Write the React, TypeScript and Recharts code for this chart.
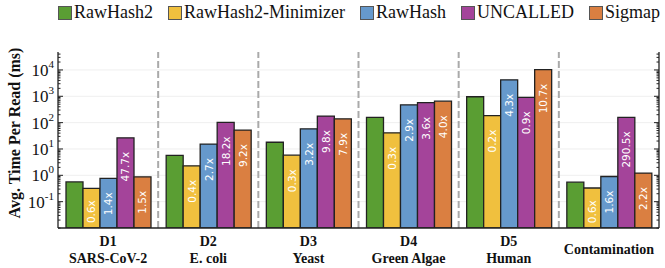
import React from 'react';
import {
  BarChart,
  Bar,
  XAxis,
  YAxis,
  Legend,
  LabelList,
  ReferenceLine,
  CartesianGrid,
} from 'recharts';

const categories = ['D1', 'D2', 'D3', 'D4', 'D5', 'Contamination'];
const subtitles = ['SARS-CoV-2', 'E. coli', 'Yeast', 'Green Algae', 'Human', ''];

// avg. time per read (ms)
const rawhash2 = [0.56, 5.7, 18, 159, 960, 0.55];
const minimizer = [0.32, 2.3, 5.8, 41, 186, 0.33];
const rawhash = [0.77, 15.4, 58, 475, 4200, 0.9];
const uncalled = [26.5, 102, 177, 570, 910, 159];
const sigmap = [0.88, 52, 140, 650, 10200, 1.22];

// speedup labels printed inside the bars
const minimizerLabels = ['0.6x', '0.4x', '0.3x', '0.3x', '0.2x', '0.6x'];
const rawhashLabels = ['1.4x', '2.7x', '3.2x', '2.9x', '4.3x', '1.6x'];
const uncalledLabels = ['47.7x', '18.2x', '9.8x', '3.6x', '0.9x', '290.5x'];
const sigmapLabels = ['1.5x', '9.2x', '7.9x', '4.0x', '10.7x', '2.2x'];

const seriesNames = ['RawHash2', 'RawHash2-Minimizer', 'RawHash', 'UNCALLED', 'Sigmap'];
const majorTicks = [0.1, 1, 10, 100, 1000, 10000];
const superscripts = ['-1', '0', '1', '2', '3', '4'];
const yDomain = [0.01, 48000];

const COLORS = ['#5a9e33', '#f0c03e', '#6699cc', '#a4449a', '#da7f41'];
const SERIF = '"Liberation Serif", serif';
const PLOT_LEFT = 58;
const PLOT_RIGHT = 659;

const allTicks: number[] = [];
for (let e = -2; e <= 4; e++) {
  for (let m = 1; m <= 9; m++) {
    const v = m * Math.pow(10, e);
    if (v <= yDomain[1]) allTicks.push(Number(v.toPrecision(3)));
  }
}

const data = categories.map((name, i) => ({
  name,
  sub: subtitles[i],
  rawhash2: rawhash2[i],
  minimizer: minimizer[i],
  rawhash: rawhash[i],
  uncalled: uncalled[i],
  sigmap: sigmap[i],
  minimizerLabel: minimizerLabels[i],
  rawhashLabel: rawhashLabels[i],
  uncalledLabel: uncalledLabels[i],
  sigmapLabel: sigmapLabels[i],
}));

const majorIndex = (v: number) => majorTicks.findIndex((t) => Math.abs(t - v) < t * 1e-6);

const LeftTick = (props: any) => {
  const { y, payload } = props;
  const idx = majorIndex(payload.value);
  const major = idx >= 0;
  return (
    <g>
      <line x1={PLOT_LEFT} x2={PLOT_LEFT + (major ? 5 : 2.5)} y1={y} y2={y} stroke="#222" strokeWidth={1} />
      {major && (
        <text x={54} y={y + 6} textAnchor="end" fontFamily={SERIF} fontSize={17} fill="#111">
          10
          <tspan fontSize={11} dy={-8}>{superscripts[idx]}</tspan>
        </text>
      )}
    </g>
  );
};

const RightTick = (props: any) => {
  const { y, payload } = props;
  const major = majorIndex(payload.value) >= 0;
  return (
    <line x1={PLOT_RIGHT} x2={PLOT_RIGHT - (major ? 5 : 2.5)} y1={y} y2={y} stroke="#222" strokeWidth={1} />
  );
};

const CategoryTick = (props: any) => {
  const { x, payload } = props;
  const sub = subtitles[payload.index];
  if (!sub) {
    return (
      <text x={x} y={254} textAnchor="middle" fontFamily={SERIF} fontWeight="bold" fontSize={14} fill="#111">
        {payload.value}
      </text>
    );
  }
  return (
    <text textAnchor="middle" fontFamily={SERIF} fontWeight="bold" fontSize={14} fill="#111">
      <tspan x={x} y={246}>{payload.value}</tspan>
      <tspan x={x} y={263}>{sub}</tspan>
    </text>
  );
};

const renderSpeedup = (props: any) => {
  const { x, y, width, height, value } = props;
  if (!value) return null;
  const len = String(value).length * 6.2;
  const bottom = y + height;
  let top = y + 14;
  if (top + len > bottom - 3) top = bottom - 3 - len;
  const cx = x + width / 2;
  return (
    <text
      x={cx}
      y={top}
      transform={`rotate(-90 ${cx} ${top})`}
      textAnchor="end"
      dominantBaseline="central"
      fill="#fff"
      fontSize={10.5}
      fontFamily="DejaVu Sans"
    >
      {value}
    </text>
  );
};

const renderLegend = () => (
  <div style={{ display: 'flex', gap: 15, fontFamily: SERIF, fontSize: 18, color: '#111' }}>
    {seriesNames.map((name, i) => (
      <div key={name} style={{ display: 'flex', alignItems: 'center' }}>
        <span
          style={{
            width: 14,
            height: 14,
            background: COLORS[i],
            border: '1px solid #555',
            boxSizing: 'border-box',
            marginRight: 2,
            display: 'inline-block',
          }}
        />
        <span>{name}</span>
      </div>
    ))}
  </div>
);

const YLabel = (props: any) => {
  const { viewBox } = props;
  const cx = viewBox.x + 14;
  const cy = 133;
  return (
    <text
      x={cx}
      y={cy}
      transform={`rotate(-90 ${cx} ${cy})`}
      textAnchor="middle"
      dominantBaseline="central"
      fontFamily={SERIF}
      fontWeight="bold"
      fontSize={16}
      fill="#111"
    >
      Avg. Time Per Read (ms)
    </text>
  );
};

export default function App() {
  return (
    <div style={{ position: 'absolute', left: 0, top: 0, background: '#fff' }}>
      <BarChart
        width={665}
        height={268}
        data={data}
        margin={{ top: 31, right: 0, bottom: 0, left: 0 }}
        barCategoryGap={8}
        barGap={0}
      >
        <CartesianGrid vertical={false} stroke="#efefef" horizontalValues={majorTicks} yAxisId="left" />
        <XAxis
          dataKey="name"
          height={40}
          axisLine={{ stroke: '#222', strokeWidth: 1.3 }}
          tickLine={false}
          tick={<CategoryTick />}
          interval={0}
        />
        <XAxis
          xAxisId="top"
          orientation="top"
          dataKey="name"
          height={0}
          tick={false}
          tickLine={false}
          axisLine={{ stroke: '#222', strokeWidth: 1.3 }}
        />
        <YAxis
          yAxisId="left"
          scale="log"
          type="number"
          domain={yDomain}
          allowDataOverflow
          ticks={allTicks}
          interval={0}
          width={PLOT_LEFT}
          axisLine={{ stroke: '#222', strokeWidth: 1.3 }}
          tickLine={false}
          tick={<LeftTick />}
          label={<YLabel />}
        />
        <YAxis
          yAxisId="right"
          orientation="right"
          scale="log"
          type="number"
          domain={yDomain}
          allowDataOverflow
          ticks={allTicks}
          interval={0}
          width={6}
          axisLine={{ stroke: '#222', strokeWidth: 1.3 }}
          tickLine={false}
          tick={<RightTick />}
        />
        {categories.slice(0, -1).map((c) => (
          <ReferenceLine
            key={c}
            yAxisId="left"
            x={c}
            position="end"
            stroke="#aaaaaa"
            strokeWidth={2}
            strokeDasharray="7 3"
          />
        ))}
        <Legend
          verticalAlign="top"
          align="left"
          content={renderLegend}
          wrapperStyle={{ top: 2, left: 58, width: 620 }}
        />
        <Bar yAxisId="left" dataKey="rawhash2" name="RawHash2" fill={COLORS[0]} stroke="#222" strokeWidth={1.3} isAnimationActive={false} />
        <Bar yAxisId="left" dataKey="minimizer" name="RawHash2-Minimizer" fill={COLORS[1]} stroke="#222" strokeWidth={1.3} isAnimationActive={false}>
          <LabelList dataKey="minimizerLabel" content={renderSpeedup} />
        </Bar>
        <Bar yAxisId="left" dataKey="rawhash" name="RawHash" fill={COLORS[2]} stroke="#222" strokeWidth={1.3} isAnimationActive={false}>
          <LabelList dataKey="rawhashLabel" content={renderSpeedup} />
        </Bar>
        <Bar yAxisId="left" dataKey="uncalled" name="UNCALLED" fill={COLORS[3]} stroke="#222" strokeWidth={1.3} isAnimationActive={false}>
          <LabelList dataKey="uncalledLabel" content={renderSpeedup} />
        </Bar>
        <Bar yAxisId="left" dataKey="sigmap" name="Sigmap" fill={COLORS[4]} stroke="#222" strokeWidth={1.3} isAnimationActive={false}>
          <LabelList dataKey="sigmapLabel" content={renderSpeedup} />
        </Bar>
      </BarChart>
    </div>
  );
}
